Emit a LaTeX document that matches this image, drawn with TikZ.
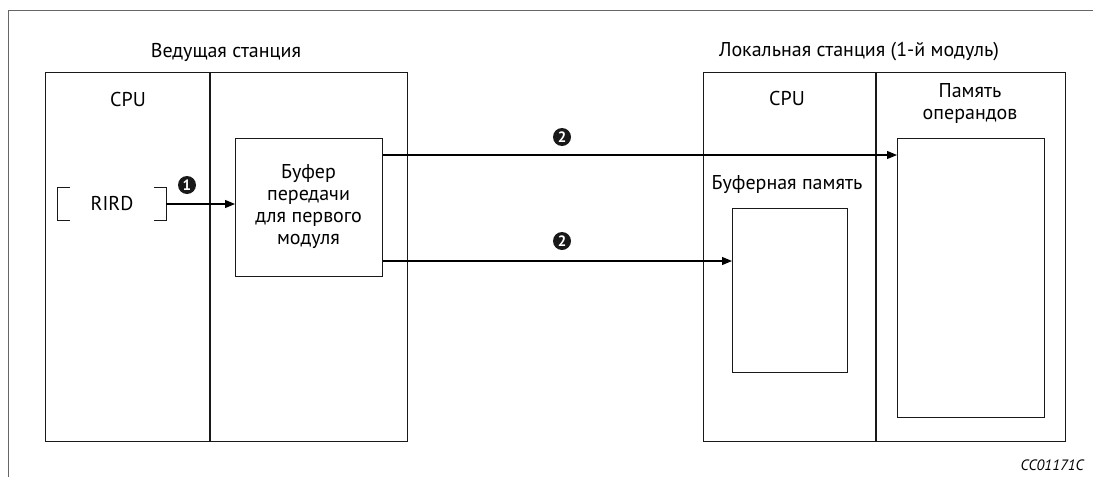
\documentclass[tikz,border=0pt]{standalone}
\usepackage{fontspec}
\setmainfont{PT Sans}
\usetikzlibrary{arrows.meta,calc}
\tikzset{
  box/.style={draw=black!90, line width=1.1pt, inner sep=0pt, anchor=north west},
  lbl/.style={font=\fontsize{20}{22}\selectfont, inner sep=0pt, align=center},
  arr/.style={line width=1.1pt, -{Triangle[length=10pt,width=8pt]}},
  num/.style={circle, fill=black!90, text=white, inner sep=0pt, minimum size=18pt, font=\fontsize{15}{15}\selectfont\bfseries},
  frame/.style={draw=black!60, line width=0.9pt},
}
\begin{document}
\begin{tikzpicture}[x=1pt,y=-1pt]
\useasboundingbox (0,0) rectangle (1093,477);
% outer frame
\coordinate (fa) at (8,477);
\coordinate (fb) at (8,10);
\coordinate (fc) at (1093,10);
\draw[frame] (fa) -- (fb) -- (fc);
% station boxes
\node[box, minimum width=362pt, minimum height=369pt] (ls) at (45,72) {};
\node[box, minimum width=362pt, minimum height=369pt] (rs) at (703,72) {};
\draw[line width=1.1pt, draw=black!90] (210,72) -- (210,441);
\draw[line width=1.1pt, draw=black!90] (876,72) -- (876,441);
% titles
\node[lbl] (lt) at (226,52) {Ведущая станция};
\node[lbl] (rt) at (859,52) {Локальная станция (1-й модуль)};
\node[lbl] (lcpu) at (128,99) {CPU};
\node[lbl] (rcpu) at (787,98) {CPU};
\node[lbl] (opt) at (970,103) {Память\\операндов};
\node[lbl] (bmt) at (787,185) {Буферная память};
% inner boxes
\node[box, minimum width=147pt, minimum height=138pt] (buf) at (235,138) {};
\node[lbl] (buft) at (308.5,207) {Буфер\\передачи\\для первого\\модуля};
\node[box, minimum width=115pt, minimum height=164pt] (bm) at (732,208) {};
\node[box, minimum width=147pt, minimum height=279pt] (op) at (897,138) {};
% RIRD
\node[lbl, minimum width=108pt, minimum height=33pt] (rird) at (112,204) {RIRD};
\draw[line width=1.1pt, draw=black!90] ([xshift=12pt]rird.north west) -- (rird.north west) -- (rird.south west) -- ([xshift=12pt]rird.south west);
\draw[line width=1.1pt, draw=black!90] ([xshift=-12pt]rird.north east) -- (rird.north east) -- (rird.south east) -- ([xshift=-12pt]rird.south east);
\draw[arr] (rird.east) -- (buf.west |- rird.east);
% arrows to local station
\coordinate (y1) at (0,155);
\coordinate (y2) at (0,261);
\draw[arr] (buf.east |- y1) -- (op.west |- y1);
\draw[arr] (buf.east |- y2) -- (bm.west |- y2);
% numbers
\node[num] (n1) at (187,185) {1};
\node[num] (n2a) at (562,137) {2};
\node[num] (n2b) at (562,241) {2};
% code
\node[font=\fontsize{15}{15}\selectfont\itshape, inner sep=0pt, anchor=east] (code) at (1084,465) {CC01171C};
\end{tikzpicture}
\end{document}
